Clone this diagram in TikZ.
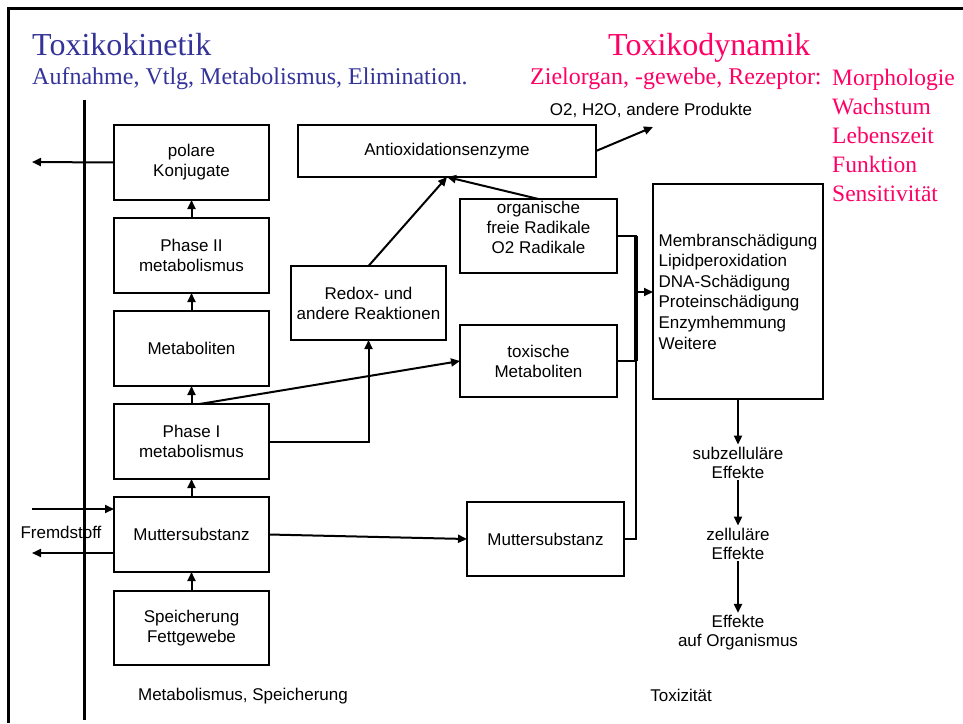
\documentclass[tikz,border=0pt]{standalone}
\usepackage{fontspec}
\setmainfont{Liberation Serif}
\setsansfont{Liberation Sans}
\usetikzlibrary{arrows.meta}
\definecolor{tkblue}{RGB}{51,51,153}
\definecolor{tkpink}{RGB}{255,0,102}
\begin{document}
\begin{tikzpicture}[x=1pt,y=-1pt,
  box/.style={draw, line width=2pt, inner sep=0pt, outer sep=0pt, align=center,
    font=\sffamily\fontsize{17}{20}\selectfont},
  lbl/.style={inner sep=2pt, align=center, font=\sffamily\fontsize{17}{19}\selectfont},
  conn/.style={line width=2pt},
  arr/.style={conn, -{Triangle[length=9pt,width=8pt]}},
  bigtitle/.style={anchor=base west, inner sep=0pt, font=\fontsize{32}{32}\selectfont},
  subtitle/.style={anchor=base west, inner sep=0pt, font=\fontsize{24}{24}\selectfont},
  listitem/.style={anchor=base west, inner sep=0pt, font=\fontsize{23.5}{24}\selectfont, text=tkpink},
]
\useasboundingbox (0,0) rectangle (963,723);
% frame and axis line
\draw[line width=3pt] (8,723) -- (8,8) -- (963,8);
\draw[line width=3pt] (84,100) -- (84,720);

% titles
\node[bigtitle, text=tkblue] (tk) at (32,55) {Toxikokinetik};
\node[subtitle, text=tkblue] (tksub) at (32,84) {Aufnahme, Vtlg, Metabolismus, Elimination.};
\node[bigtitle, text=tkpink] (td) at (608,55) {Toxikodynamik};
\node[subtitle, text=tkpink] (tdsub) at (530,84) {Zielorgan, -gewebe, Rezeptor:};
\node[listitem] (l1) at (832,85) {Morphologie};
\node[listitem] (l2) at (832,114) {Wachstum};
\node[listitem] (l3) at (832,143) {Lebenszeit};
\node[listitem] (l4) at (832,172) {Funktion};
\node[listitem] (l5) at (832,201) {Sensitivität};

% left column
\node[box, minimum width=155pt, minimum height=75pt] (pk) at (191.5,162.5) {polare\\Konjugate};
\node[box, minimum width=155pt, minimum height=75pt] (p2) at (191.5,255.5) {Phase II\\metabolismus};
\node[box, minimum width=155pt, minimum height=75pt] (met) at (191.5,348.5) {Metaboliten};
\node[box, minimum width=155pt, minimum height=75pt] (p1) at (191.5,441.5) {Phase I\\metabolismus};
\node[box, minimum width=155pt, minimum height=75pt] (mut) at (191.5,534.5) {Muttersubstanz};
\node[box, minimum width=155pt, minimum height=74pt] (sp) at (191.5,628) {Speicherung\\Fettgewebe};

% middle
\node[box, minimum width=298pt, minimum height=52pt] (anti) at (447,151) {Antioxidationsenzyme};
\node[box, minimum width=157pt, minimum height=74pt] (org) at (538.5,236) {};
\node[lbl, inner sep=0pt, font=\sffamily\fontsize{17}{20}\selectfont] (orgtxt) at (538.5,227) {organische\\freie Radikale\\O2 Radikale};
\node[box, minimum width=155pt, minimum height=74pt] (redox) at (368.5,303) {Redox- und\\andere Reaktionen};
\node[box, minimum width=157pt, minimum height=72pt] (tox) at (538.5,361) {toxische\\Metaboliten};
\node[box, minimum width=157pt, minimum height=74pt] (mut2) at (545.5,539) {Muttersubstanz};
\node[box, minimum width=170pt, minimum height=215pt, align=left,
  font=\sffamily\fontsize{17}{20.6}\selectfont] (big) at (738,291.5)
  {Membranschädigung\\Lipidperoxidation\\DNA-Schädigung\\Proteinschädigung\\Enzymhemmung\\Weitere};

% right column effects
\node[lbl] (sub) at (738,462.5) {subzelluläre\\Effekte};
\node[lbl] (zell) at (738,543.5) {zelluläre\\Effekte};
\node[lbl] (eff) at (738,632.5) {Effekte\\auf Organismus};

% other labels
\node[lbl] (prod) at (651,110) {O2, H2O, andere Produkte};
\node[lbl] (frem) at (61,532) {Fremdstoff};
\node[lbl] (metsp) at (243,696) {Metabolismus, Speicherung};
\node[lbl] (toxiz) at (681,695) {Toxizität};

% left column arrows
\draw[arr] (sp) -- (mut);
\draw[arr] (mut) -- (p1);
\draw[arr] (p1) -- (met);
\draw[arr] (met) -- (p2);
\draw[arr] (p2) -- (pk);
\coordinate (pkout) at (32,162);
\draw[arr] (pk.west) -- (pkout);
\coordinate (fin) at (32,509);
\draw[arr] (fin) -- (fin -| mut.west);
\coordinate (fout) at (32,553);
\draw[arr] (mut.west |- fout) -- (fout);

% middle arrows
\coordinate (prodpt) at (653,127);
\draw[arr] (anti.east) -- (prodpt);
\draw[arr] (redox.north) -- (anti.south);
\draw[arr] (org.north) -- (anti.south);
\draw[arr] ([xshift=8pt]p1.north) -- (tox.west);
\draw[arr] (p1.east) -| (redox.south);
\draw[arr] (mut.east) -- (mut2.west);

% merge into big box
\coordinate (J) at (636,292);
\draw[conn] (org.east) -| (J);
\draw[conn] (tox.east) -| (J);
\draw[line width=3.5pt] (J |- org.east) -- (J |- tox.east);
\draw[conn] (mut2.east) -| (J);
\draw[arr] (J) -- (big.west |- J);

% effects chain
\draw[arr] (big.south) -- (sub.north);
\draw[arr] (sub) -- (zell);
\draw[arr] (zell) -- (eff);
\end{tikzpicture}
\end{document}
